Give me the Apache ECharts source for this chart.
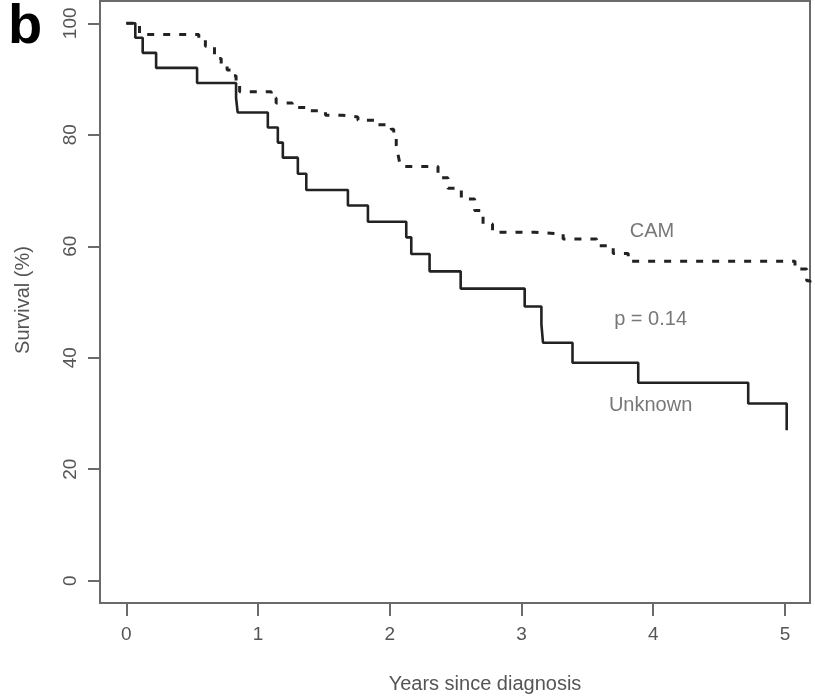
<!DOCTYPE html>
<html>
<head>
<meta charset="utf-8">
<script src="https://cdn.jsdelivr.net/npm/echarts@6/dist/echarts.min.js"></script>
<style>html,body{margin:0;padding:0;background:#fff;}#c{width:815px;height:700px;}</style>
</head>
<body>
<div id="c"></div>
<script>
// Kaplan-Meier step data [years, survival %]
const unknownX = [0, 0.068, 0.124, 0.226, 0.537, 0.833, 0.845, 1.074, 1.150, 1.188, 1.302, 1.366, 1.682, 1.834, 2.125, 2.163, 2.302, 2.538, 3.024, 3.151, 3.163, 3.387, 3.886, 4.721, 5.013];
const unknownY = [100, 97.4, 94.7, 92.0, 89.3, 86.6, 84.0, 81.3, 78.6, 75.9, 73.0, 70.1, 67.3, 64.4, 61.6, 58.6, 55.5, 52.4, 49.2, 46.0, 42.7, 39.1, 35.5, 31.8, 27.0];
const camX = [0, 0.10, 0.55, 0.60, 0.669, 0.72, 0.765, 0.80, 0.833, 0.86, 1.10, 1.137, 1.259, 1.385, 1.512, 1.639, 1.758, 1.885, 2.011, 2.03, 2.049, 2.062, 2.075, 2.09, 2.366, 2.441, 2.543, 2.644, 2.708, 2.78, 3.10, 3.316, 3.57, 3.696, 3.81, 5.076, 5.165, 5.19];
const camY = [100, 98.0, 97.0, 95.9, 93.7, 92.6, 91.6, 90.6, 89.6, 87.7, 86.6, 85.7, 84.9, 84.3, 83.5, 83.2, 82.6, 81.8, 81.0, 79.5, 78.1, 76.5, 75.0, 74.3, 72.3, 70.4, 68.5, 66.4, 64.0, 62.5, 62.2, 61.3, 60.1, 58.7, 57.3, 55.9, 53.8, 53.0];
const xTicks = [0, 1, 2, 3, 4, 5];
const yTicks = [0, 20, 40, 60, 80, 100];
const annotText = ['CAM', 'p = 0.14', 'Unknown'];
const annotX = [3.99, 3.98, 3.98];
const annotY = [62.6, 46.8, 31.5];

const FONT = '"Liberation Sans", Arial, sans-serif';
const GRAY = '#555';
const zip = (a, b) => a.map((v, i) => [v, b[i]]);

const chart = echarts.init(document.getElementById('c'), null, {renderer: 'canvas'});
chart.setOption({
  animation: false,
  backgroundColor: '#fff',
  grid: {left: 100, right: 5, top: 1, bottom: 97, show: true, borderColor: '#6a6a6a', borderWidth: 2, backgroundColor: 'transparent'},
  xAxis: {
    type: 'value', min: -0.2, max: 5.19,
    axisLine: {show: false, onZero: false},
    splitLine: {show: false},
    axisTick: {show: true, length: 13, customValues: xTicks, lineStyle: {color: '#6a6a6a', width: 2}},
    axisLabel: {customValues: xTicks, margin: 22, fontSize: 19, color: GRAY, fontFamily: FONT}
  },
  yAxis: {
    type: 'value', min: -4, max: 104,
    axisLine: {show: false, onZero: false},
    splitLine: {show: false},
    axisTick: {show: true, length: 12, customValues: yTicks, lineStyle: {color: '#6a6a6a', width: 2}},
    axisLabel: {customValues: yTicks, rotate: 90, margin: 20, fontSize: 19, color: GRAY, fontFamily: FONT}
  },
  graphic: [
    {type: 'text', left: 8, top: 0, style: {text: 'b', font: 'bold 56px ' + FONT, fill: '#000'}},
    {type: 'text', x: 485, y: 684, style: {text: 'Years since diagnosis', fontSize: 20, fontFamily: FONT, fill: GRAY, align: 'center', verticalAlign: 'middle'}},
    {type: 'text', x: 23, y: 300, rotation: Math.PI / 2, style: {text: 'Survival (%)', fontSize: 20, fontFamily: FONT, fill: GRAY, align: 'center', verticalAlign: 'middle'}}
  ],
  series: [
    {type: 'line', name: 'Unknown', step: 'end', symbol: 'none', data: zip(unknownX, unknownY),
     lineStyle: {color: '#222', width: 2.6}},
    {type: 'line', name: 'CAM', step: 'end', symbol: 'none', data: zip(camX, camY),
     lineStyle: {color: '#222', width: 3, type: [7, 9]}},
    {type: 'scatter', symbolSize: 0, silent: true,
     data: annotText.map((t, i) => [annotX[i], annotY[i], t]),
     label: {show: true, position: 'inside', formatter: p => p.value[2], fontSize: 20, color: GRAY, fontFamily: FONT}}
  ]
});
</script>
</body>
</html>
